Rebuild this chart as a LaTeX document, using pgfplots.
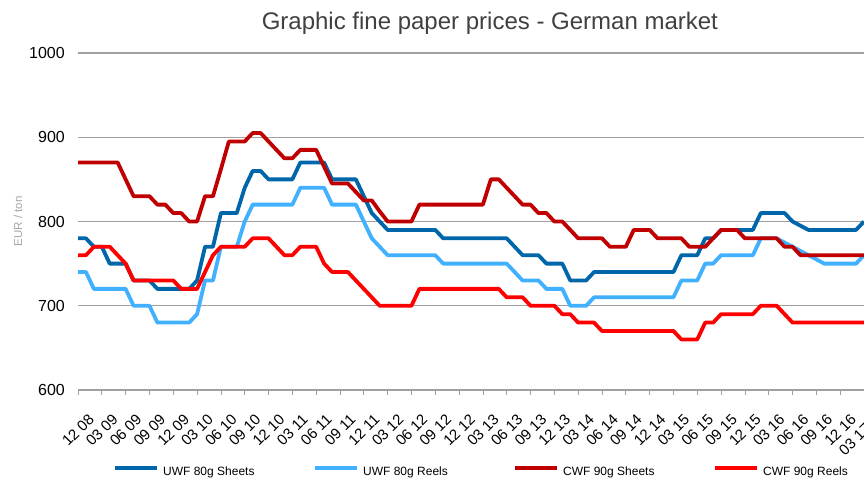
\documentclass[border=0pt]{standalone}
\usepackage{pgfplots}
\pgfplotsset{compat=1.18}
\usepackage{pgfplotstable}
\usepackage{fontspec}
\setmainfont{Liberation Sans}

\definecolor{uwfs}{HTML}{0066AA}
\definecolor{uwfr}{HTML}{40B0FF}
\definecolor{cwfs}{HTML}{C00000}
\definecolor{cwfr}{HTML}{FF0000}
\definecolor{gridgray}{HTML}{A0A0A0}
\definecolor{titlegray}{HTML}{404040}
\definecolor{labelgray}{HTML}{A6A6A6}

% monthly prices, m=0 is 12/2008, m=99 is 03/2017
\pgfplotstableread{
m us ur cs cr
0 780 740 870 760
1 780 740 870 760
2 770 720 870 770
3 770 720 870 770
4 750 720 870 770
5 750 720 870 760
6 750 720 850 750
7 730 700 830 730
8 730 700 830 730
9 730 700 830 730
10 720 680 820 730
11 720 680 820 730
12 720 680 810 730
13 720 680 810 720
14 720 680 800 720
15 730 690 800 720
16 770 730 830 740
17 770 730 830 760
18 810 770 862 770
19 810 770 895 770
20 810 770 895 770
21 840 800 895 770
22 860 820 905 780
23 860 820 905 780
24 850 820 895 780
25 850 820 885 770
26 850 820 875 760
27 850 820 875 760
28 870 840 885 770
29 870 840 885 770
30 870 840 885 770
31 870 840 865 750
32 850 820 845 740
33 850 820 845 740
34 850 820 845 740
35 850 820 835 730
36 830 800 825 720
37 810 780 825 710
38 800 770 812 700
39 790 760 800 700
40 790 760 800 700
41 790 760 800 700
42 790 760 800 700
43 790 760 820 720
44 790 760 820 720
45 790 760 820 720
46 780 750 820 720
47 780 750 820 720
48 780 750 820 720
49 780 750 820 720
50 780 750 820 720
51 780 750 820 720
52 780 750 850 720
53 780 750 850 720
54 780 750 840 710
55 770 740 830 710
56 760 730 820 710
57 760 730 820 700
58 760 730 810 700
59 750 720 810 700
60 750 720 800 700
61 750 720 800 690
62 730 700 790 690
63 730 700 780 680
64 730 700 780 680
65 740 710 780 680
66 740 710 780 670
67 740 710 770 670
68 740 710 770 670
69 740 710 770 670
70 740 710 790 670
71 740 710 790 670
72 740 710 790 670
73 740 710 780 670
74 740 710 780 670
75 740 710 780 670
76 760 730 780 660
77 760 730 770 660
78 760 730 770 660
79 780 750 770 680
80 780 750 780 680
81 790 760 790 690
82 790 760 790 690
83 790 760 790 690
84 790 760 780 690
85 790 760 780 690
86 810 780 780 700
87 810 780 780 700
88 810 780 780 700
89 810 775 770 690
90 800 770 770 680
91 795 765 760 680
92 790 760 760 680
93 790 755 760 680
94 790 750 760 680
95 790 750 760 680
96 790 750 760 680
97 790 750 760 680
98 790 750 760 680
99 800 760 760 680
}\prices

\begin{document}
\begin{tikzpicture}
\path[use as bounding box] (0pt,0pt) rectangle (864pt,478pt);
\begin{axis}[
  at={(78pt,88pt)}, anchor=south west,
  scale only axis, width=786pt, height=337pt,
  xmin=0, xmax=99, ymin=600, ymax=1000,
  clip=false,
  axis x line*=bottom, axis y line*=left,
  y axis line style={draw=none},
  x axis line style={draw=gridgray, line width=1.2pt},
  ymajorgrids,
  grid style={draw=gridgray, line width=1.3pt},
  xtick={0,3,...,99},
  xticklabels={12 08,03 09,06 09,09 09,12 09,03 10,06 10,09 10,12 10,03 11,06 11,09 11,12 11,03 12,06 12,09 12,12 12,03 13,06 13,09 13,12 13,03 14,06 14,09 14,12 14,03 15,06 15,09 15,12 15,03 16,06 16,09 16,12 16,03 17\rule{26pt}{0pt}},
  ytick={600,700,800,900,1000},
  tick align=outside, major tick length=5pt,
  xtick style={draw=gridgray, line width=0.8pt},
  ytick style={draw=none},
  /pgf/number format/assume math mode=true,
  /pgf/number format/1000 sep={},
  xticklabel style={font=\fontsize{15}{15}\selectfont, yshift=-35pt, rotate=45, anchor=center},
  yticklabel style={font=\fontsize{16}{16}\selectfont, anchor=east, inner sep=0pt, xshift=-8pt},
  title={Graphic fine paper prices - German market},
  title style={at={(axis description cs:0.524,1.053)}, anchor=base,
    font=\fontsize{24}{24}\selectfont, text=titlegray},
  ylabel={EUR / ton},
  ylabel style={at={(axis description cs:-0.0763,0.5)}, anchor=center,
    font=\fontsize{11.5}{11.5}\selectfont, text=labelgray},
  legend columns=4,
  legend cell align=left,
  legend image code/.code={\draw[#1, line width=4pt, line cap=butt] (0pt,3.5pt) -- (42pt,3.5pt);},
  legend style={draw=none, fill=none, at={(axis description cs:0.0445,-0.243)}, anchor=west,
    font=\fontsize{12}{12}\selectfont, inner sep=0pt},
]
\addplot[uwfs, line width=3.8pt, line join=round] table[x=m, y=us] {\prices};
\addlegendentry{\makebox[150pt][l]{\hspace{2pt}UWF 80g Sheets}}
\addplot[uwfr, line width=3.8pt, line join=round] table[x=m, y=ur] {\prices};
\addlegendentry{\makebox[150pt][l]{\hspace{2pt}UWF 80g Reels}}
\addplot[cwfs, line width=3.8pt, line join=round] table[x=m, y=cs] {\prices};
\addlegendentry{\makebox[150pt][l]{\hspace{2pt}CWF 90g Sheets}}
\addplot[cwfr, line width=3.8pt, line join=round] table[x=m, y=cr] {\prices};
\addlegendentry{\makebox[150pt][l]{\hspace{2pt}CWF 90g Reels}}
\end{axis}
\end{tikzpicture}
\end{document}
